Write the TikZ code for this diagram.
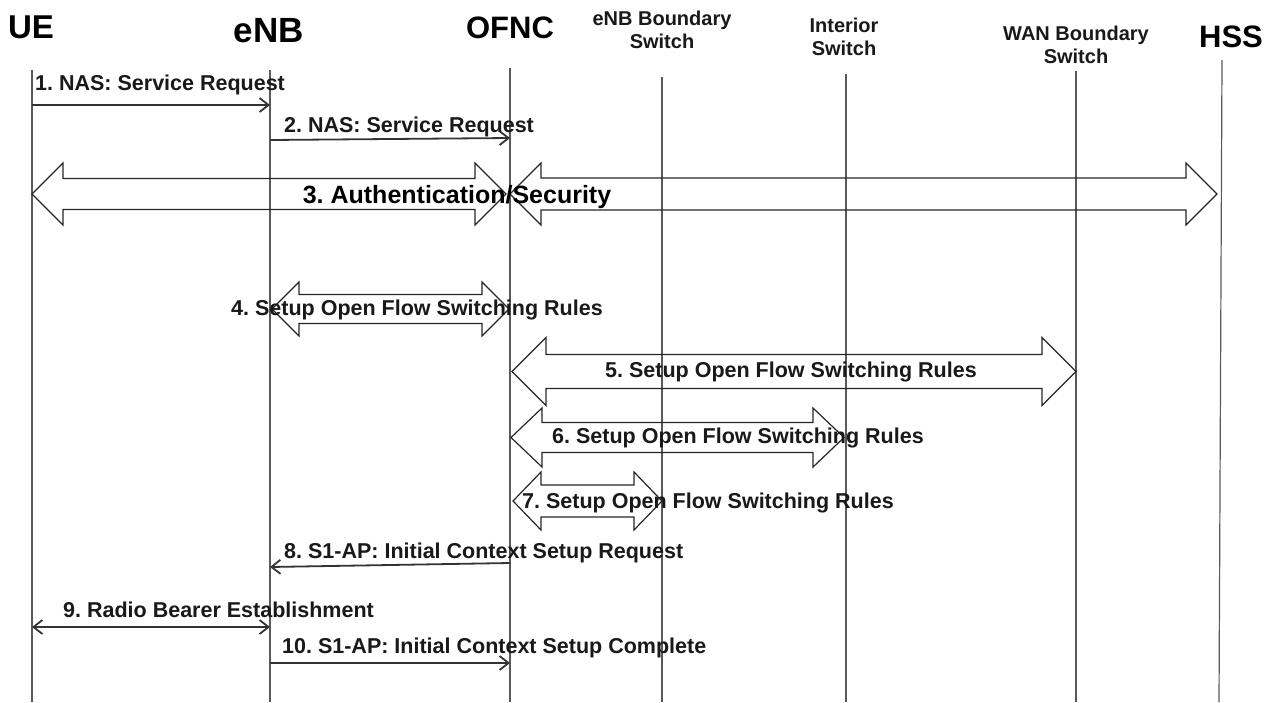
\documentclass[tikz,border=0pt]{standalone}
\usepackage{fontspec}
\setmainfont{Liberation Sans}
\usetikzlibrary{arrows.meta}
\frenchspacing
\newcommand\dblblock[6]{% x1 x2 y shaft-half head-half head-length
  \draw[blockarrow] (#1,#3) -- ({#1+#6},{#3-#5}) -- ({#1+#6},{#3-#4}) -- ({#2-#6},{#3-#4})
    -- ({#2-#6},{#3-#5}) -- (#2,#3) -- ({#2-#6},{#3+#5}) -- ({#2-#6},{#3+#4})
    -- ({#1+#6},{#3+#4}) -- ({#1+#6},{#3+#5}) -- cycle;}
\begin{document}
\begin{tikzpicture}[x=1pt,y=-1pt,
  life/.style={line width=1.2pt, draw=black!65},
  msg/.style={line width=1.8pt, draw=black!80, -{Straight Barb[length=9pt,width=14pt,line width=1.8pt]}},
  dmsg/.style={line width=1.8pt, draw=black!80, {Straight Barb[length=9pt,width=14pt,line width=1.8pt]}-{Straight Barb[length=9pt,width=14pt,line width=1.8pt]}},
  blockarrow/.style={line width=1.2pt, draw=black!85},
  lbl/.style={font=\bfseries\fontsize{21.5}{25}\selectfont, inner sep=0pt, anchor=base west, text=black!90},
  head/.style={font=\bfseries\fontsize{#1}{#1}\selectfont, inner sep=0pt, anchor=base, text=black},
  swhead/.style={font=\bfseries\fontsize{20}{23}\selectfont, inner sep=0pt, anchor=base, align=center, text=black!90}
]
\useasboundingbox (0,0) rectangle (1282,702);

% headers
\node[head=33] (UE) at (31,38) {UE};
\node[head=35] (eNB) at (269,42) {eNB};
\node[head=31] (OFNC) at (510,38) {OFNC};
\node[swhead] (EBS) at (662,48) {eNB Boundary\\Switch};
\node[swhead] (IS) at (844,55) {Interior\\Switch};
\node[swhead] (WBS) at (1076,63) {WAN Boundary\\Switch};
\node[head=31] (HSS) at (1231,47) {HSS};

% lifelines
\coordinate (UEt) at (32,70);   \coordinate (UEb) at (32,702);
\coordinate (eNBt) at (270,70); \coordinate (eNBb) at (270,702);
\coordinate (OFt) at (510,68);  \coordinate (OFb) at (510,702);
\coordinate (EBt) at (662,77);  \coordinate (EBb) at (662,702);
\coordinate (ISt) at (846,74);  \coordinate (ISb) at (846,702);
\coordinate (WBt) at (1076,71); \coordinate (WBb) at (1076,702);
\coordinate (HSt) at (1222,60); \coordinate (HSb) at (1219,702);
\foreach \a/\b in {UEt/UEb,eNBt/eNBb,OFt/OFb,EBt/EBb,ISt/ISb,WBt/WBb,HSt/HSb}
  \draw[life] (\a) -- (\b);

% simple messages
\draw[msg] (UEt |- 0,105) -- (eNBt |- 0,105);
\node[lbl] (m1) at (35,90) {1. NAS: Service Request};
\draw[msg] (eNBt |- 0,140) -- (OFt |- 0,138);
\node[lbl] (m2) at (284,132) {2. NAS: Service Request};

% block arrows
\dblblock{32}{506}{194}{15.5}{31}{31}
\dblblock{510}{1217}{194}{16}{31}{31}
\node[font=\bfseries\fontsize{25}{30}\selectfont, inner sep=0pt, anchor=base] (m3) at (457,203) {3. Authentication/Security};

\dblblock{272}{509}{309}{14.5}{27}{27}
\node[lbl] (m4) at (231,315) {4. Setup Open Flow Switching Rules};

\dblblock{512}{1076}{371.5}{17}{34}{34}
\node[lbl] (m5) at (605,377) {5. Setup Open Flow Switching Rules};

\dblblock{511}{844}{437.5}{15}{29.5}{31}
\node[lbl] (m6) at (552,443) {6. Setup Open Flow Switching Rules};

\dblblock{513}{662}{501}{16}{29}{28}
\node[lbl] (m7) at (522,508) {7. Setup Open Flow Switching Rules};

% final messages
\draw[msg] (OFt |- 0,563) -- (eNBt |- 0,567);
\node[lbl] (m8) at (284,558) {8. S1-AP: Initial Context Setup Request};
\draw[dmsg] (UEt |- 0,627) -- (eNBt |- 0,627);
\node[lbl] (m9) at (63,617) {9. Radio Bearer Establishment};
\draw[msg] (eNBt |- 0,663) -- (OFt |- 0,663);
\node[lbl] (m10) at (282,653) {10. S1-AP: Initial Context Setup Complete};
\end{tikzpicture}
\end{document}
